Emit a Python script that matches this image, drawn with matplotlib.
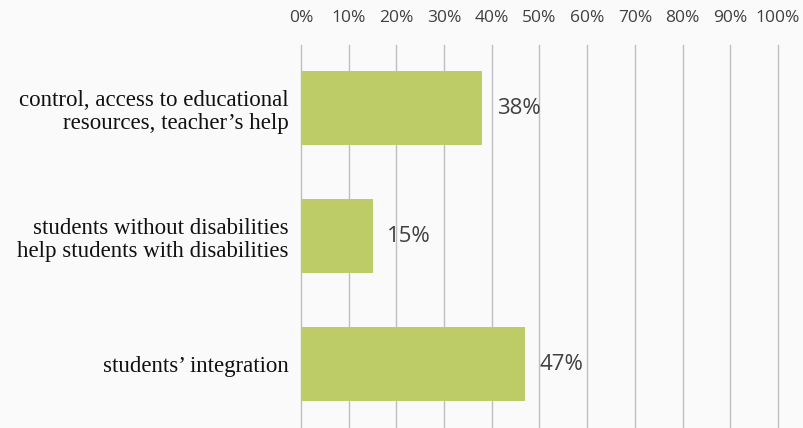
import matplotlib

matplotlib.use("agg")
import matplotlib.pyplot as plt
from matplotlib.ticker import PercentFormatter

categories = [
    "control, access to educational\nresources, teacher\u2019s help",
    "students without disabilities\nhelp students with disabilities",
    "students\u2019 integration",
]
values = [38, 15, 47]
value_labels = ["38%", "15%", "47%"]
ticks = list(range(0, 101, 10))

bg = "#fafafa"
bar_color = "#bdcc67"

fig = plt.figure(figsize=(8.04, 4.28), dpi=100, facecolor=bg)
ax = fig.add_axes([301 / 804, 0.0, 477 / 804, 1 - 44.5 / 428])
ax.set_facecolor(bg)

ypos = [0, 1, 2]
ax.barh(ypos, values, height=0.58, color=bar_color, zorder=3)
ax.set_ylim(2.5, -0.5)
ax.set_xlim(0, 100)

for y, v, lab in zip(ypos, values, value_labels):
    ax.text(v + 3, y, lab, va="center", ha="left", fontsize=16,
            color="#404040", family="Open Sans", zorder=4)

ax.set_xticks(ticks)
ax.xaxis.set_major_formatter(PercentFormatter(decimals=0))
ax.xaxis.tick_top()
ax.tick_params(axis="x", length=0, pad=13, labelsize=12.5, labelcolor="#404040")
for t in ax.get_xticklabels():
    t.set_family("Open Sans")
ax.grid(axis="x", color="#bfbfbf", linewidth=1.0, zorder=0)
for g in ax.xaxis.get_gridlines():
    g.set_clip_on(False)

ax.set_yticks(ypos)
ax.set_yticklabels(categories, family="Liberation Serif", fontsize=16.5,
                   color="#111111", linespacing=1.12)
ax.tick_params(axis="y", length=0, pad=9)
for s in ax.spines.values():
    s.set_visible(False)

fig.savefig("out.png", dpi=100, facecolor=bg)
